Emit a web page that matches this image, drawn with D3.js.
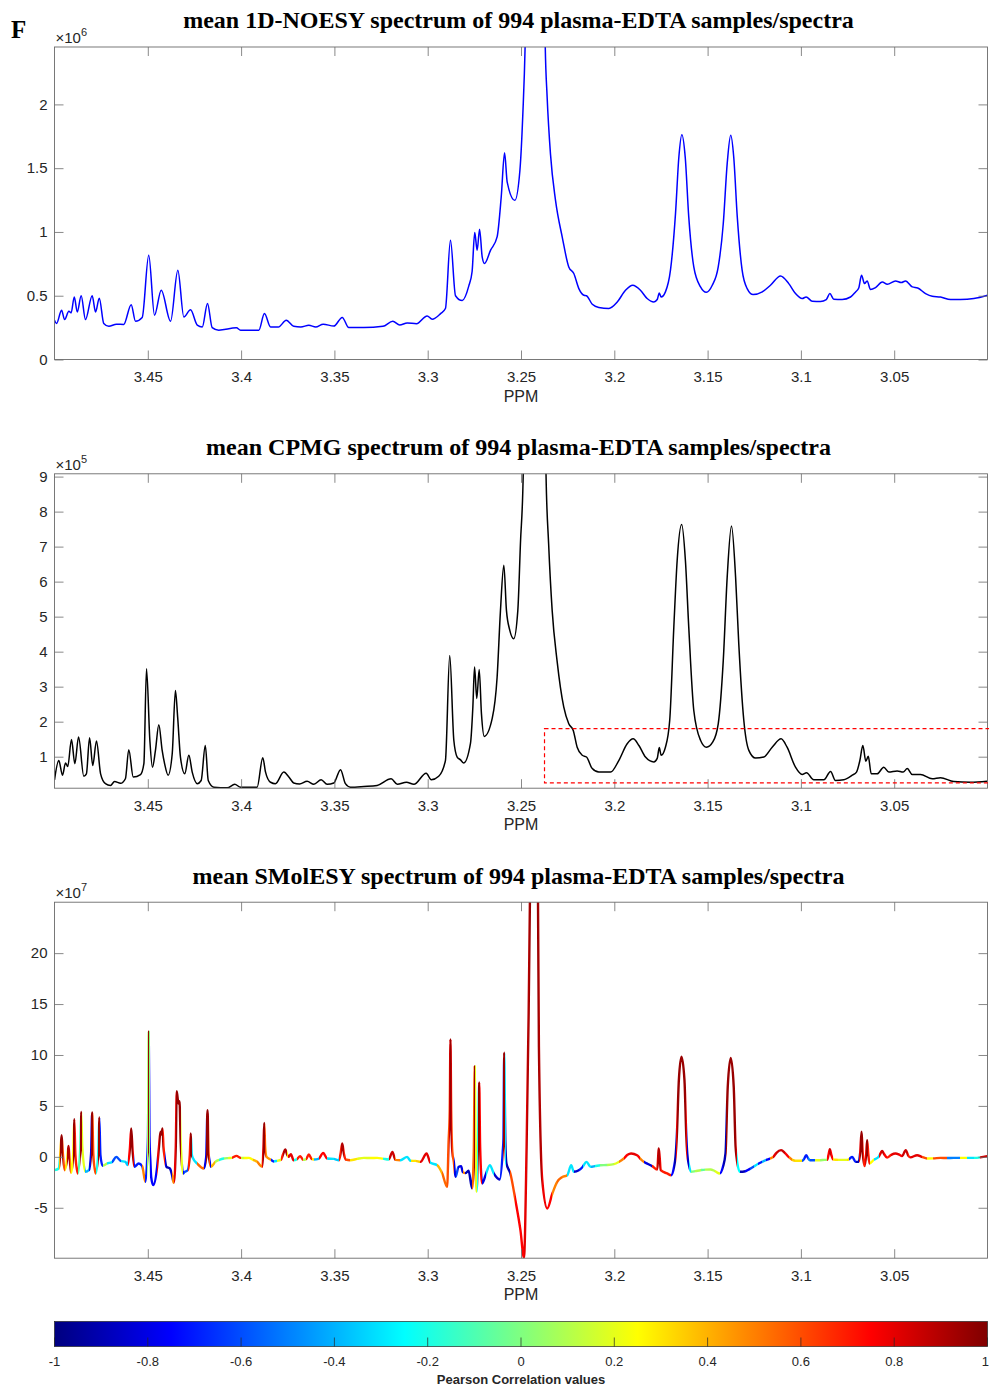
<!DOCTYPE html>
<html>
<head>
<meta charset="utf-8">
<script src="https://cdn.jsdelivr.net/npm/d3@7/dist/d3.min.js"></script>
<style>
  body { margin: 0; background: #fff; }
  svg text { font-family: "Liberation Sans", Arial, Helvetica, sans-serif; }
</style>
</head>
<body>
<svg id="fig" width="989" height="1389"></svg>
<script>
// ---- axis ticks -------------------------------------------------------
const ppmTicks = [3.45, 3.4, 3.35, 3.3, 3.25, 3.2, 3.15, 3.1, 3.05];
const noesyTicks = [0, 0.5, 1, 1.5, 2];           // x 10^6
const cpmgTicks = [1, 2, 3, 4, 5, 6, 7, 8, 9];     // x 10^5
const smolesyTicks = [-5, 0, 5, 10, 15, 20];       // x 10^7
const corrTicks = [-1, -0.8, -0.6, -0.4, -0.2, 0, 0.2, 0.4, 0.6, 0.8, 1];

// ---- mean 1D-NOESY spectrum: [ppm, intensity x 10^6] -------------------
const noesy = [
  [3.5000,0.308],[3.4989,0.282],[3.4962,0.386],[3.4946,0.313],[3.4923,0.378],[3.4911,0.365],
  [3.4894,0.490],[3.4878,0.373],[3.4857,0.500],[3.4834,0.313],[3.4798,0.500],[3.4780,0.373],
  [3.4760,0.480],[3.4736,0.282],[3.4709,0.260],[3.4668,0.277],[3.4629,0.275],[3.4589,0.430],
  [3.4566,0.300],[3.4530,0.330],[3.4495,0.817],[3.4464,0.347],[3.4428,0.543],[3.4378,0.300],
  [3.4339,0.700],[3.4307,0.334],[3.4271,0.390],[3.4235,0.270],[3.4208,0.255],[3.4180,0.440],
  [3.4155,0.250],[3.4120,0.230],[3.4025,0.248],[3.4003,0.230],[3.3905,0.230],[3.3875,0.360],
  [3.3842,0.255],[3.3800,0.255],[3.3758,0.308],[3.3718,0.260],[3.3680,0.255],[3.3637,0.268],
  [3.3600,0.255],[3.3560,0.277],[3.3503,0.262],[3.3458,0.330],[3.3423,0.250],[3.3342,0.250],
  [3.3240,0.260],[3.3187,0.300],[3.3150,0.270],[3.3110,0.287],[3.3060,0.280],[3.3003,0.342],
  [3.2976,0.316],[3.2931,0.360],[3.2905,0.400],[3.2878,0.935],[3.2851,0.500],[3.2815,0.462],
  [3.2780,0.575],[3.2762,0.690],[3.2748,0.995],[3.2735,0.857],[3.2722,1.021],[3.2708,0.804],
  [3.2696,0.752],[3.2663,0.857],[3.2628,0.961],[3.2606,1.274],[3.2588,1.620],[3.2574,1.390],
  [3.2533,1.248],[3.2506,1.480],[3.2490,1.930],[3.2478,2.450],[3.2472,2.900],[3.2425,5.000],
  [3.2375,2.900],[3.2370,2.450],[3.2360,2.060],[3.2342,1.610],[3.2315,1.248],[3.2279,0.960],
  [3.2244,0.726],[3.2217,0.674],[3.2190,0.556],[3.2163,0.504],[3.2149,0.500],[3.2118,0.433],
  [3.2083,0.408],[3.2029,0.400],[3.1984,0.451],[3.1940,0.543],[3.1901,0.582],[3.1860,0.543],
  [3.1824,0.478],[3.1788,0.451],[3.1770,0.470],[3.1759,0.522],[3.1749,0.490],[3.1726,0.530],
  [3.1699,0.700],[3.1672,1.144],[3.1654,1.588],[3.1638,1.763],[3.1620,1.588],[3.1601,1.118],
  [3.1574,0.726],[3.1538,0.569],[3.1507,0.527],[3.1475,0.582],[3.1443,0.726],[3.1416,1.066],
  [3.1395,1.536],[3.1376,1.758],[3.1360,1.588],[3.1341,1.118],[3.1315,0.700],[3.1288,0.556],
  [3.1256,0.509],[3.1207,0.530],[3.1163,0.582],[3.1109,0.655],[3.1065,0.595],[3.1029,0.517],
  [3.0993,0.478],[3.0972,0.490],[3.0939,0.457],[3.0895,0.455],[3.0864,0.470],[3.0845,0.517],
  [3.0824,0.473],[3.0779,0.470],[3.0734,0.490],[3.0707,0.530],[3.0690,0.560],[3.0675,0.660],
  [3.0659,0.595],[3.0645,0.616],[3.0627,0.549],[3.0600,0.564],[3.0564,0.608],[3.0537,0.590],
  [3.0493,0.616],[3.0462,0.603],[3.0439,0.616],[3.0403,0.569],[3.0374,0.561],[3.0332,0.517],
  [3.0296,0.496],[3.0252,0.490],[3.0198,0.470],[3.0145,0.470],[3.0073,0.478],[3.0000,0.504]
];

// ---- mean CPMG spectrum: [ppm, intensity x 10^5] -----------------------
const cpmg = [
  [3.5000,0.34],[3.4977,0.89],[3.4957,0.47],[3.4941,0.82],[3.4929,0.72],[3.4909,1.49],
  [3.4891,0.80],[3.4871,1.56],[3.4843,0.44],[3.4829,0.51],[3.4812,1.54],[3.4795,0.75],
  [3.4775,1.45],[3.4753,0.51],[3.4727,0.23],[3.4700,0.18],[3.4678,0.29],[3.4646,0.24],
  [3.4620,0.37],[3.4602,1.20],[3.4578,0.42],[3.4539,0.49],[3.4521,0.80],[3.4507,3.51],
  [3.4489,1.47],[3.4475,0.70],[3.4459,1.18],[3.4441,1.91],[3.4423,1.18],[3.4410,0.80],
  [3.4391,0.47],[3.4369,1.09],[3.4352,2.89],[3.4340,2.13],[3.4325,0.99],[3.4302,0.51],
  [3.4280,1.04],[3.4262,0.56],[3.4235,0.23],[3.4214,0.32],[3.4192,1.32],[3.4176,0.32],
  [3.4146,0.13],[3.4074,0.11],[3.4034,0.21],[3.4003,0.13],[3.3914,0.13],[3.3884,0.97],
  [3.3869,0.56],[3.3842,0.27],[3.3816,0.23],[3.3771,0.56],[3.3744,0.42],[3.3718,0.25],
  [3.3687,0.22],[3.3646,0.30],[3.3610,0.21],[3.3571,0.34],[3.3539,0.21],[3.3503,0.25],
  [3.3467,0.63],[3.3441,0.23],[3.3414,0.13],[3.3342,0.15],[3.3271,0.18],[3.3196,0.37],
  [3.3163,0.21],[3.3114,0.27],[3.3074,0.21],[3.3008,0.53],[3.2981,0.34],[3.2941,0.44],
  [3.2905,0.89],[3.2882,3.89],[3.2860,1.47],[3.2842,0.99],[3.2824,0.91],[3.2807,0.82],
  [3.2771,1.37],[3.2758,2.42],[3.2749,3.56],[3.2737,2.66],[3.2724,3.49],[3.2712,2.23],
  [3.2697,1.58],[3.2654,2.10],[3.2628,3.27],[3.2610,5.18],[3.2592,6.47],[3.2578,5.18],
  [3.2560,4.61],[3.2539,4.37],[3.2517,5.18],[3.2503,7.09],[3.2488,9.09],[3.2486,9.80],
  [3.2428,22.0],[3.2368,9.80],[3.2366,9.09],[3.2352,7.09],[3.2333,5.18],[3.2307,3.75],
  [3.2271,2.42],[3.2244,1.94],[3.2220,1.75],[3.2199,1.27],[3.2172,1.04],[3.2149,0.99],
  [3.2118,0.66],[3.2083,0.56],[3.2020,0.56],[3.1976,0.89],[3.1931,1.37],[3.1899,1.51],
  [3.1868,1.32],[3.1833,0.99],[3.1788,0.85],[3.1770,0.95],[3.1759,1.26],[3.1749,1.04],
  [3.1726,1.27],[3.1703,2.04],[3.1681,4.70],[3.1663,6.61],[3.1639,7.63],[3.1619,6.61],
  [3.1601,4.70],[3.1574,2.32],[3.1538,1.47],[3.1506,1.27],[3.1472,1.42],[3.1443,1.94],
  [3.1416,3.75],[3.1395,6.13],[3.1372,7.59],[3.1350,6.13],[3.1333,4.23],[3.1306,2.04],
  [3.1279,1.18],[3.1243,0.96],[3.1199,0.99],[3.1154,1.27],[3.1106,1.51],[3.1074,1.27],
  [3.1029,0.70],[3.0993,0.49],[3.0970,0.54],[3.0931,0.34],[3.0877,0.34],[3.0841,0.58],
  [3.0815,0.32],[3.0770,0.34],[3.0725,0.47],[3.0702,0.56],[3.0684,0.89],[3.0668,1.32],
  [3.0652,0.87],[3.0639,1.01],[3.0623,0.51],[3.0591,0.51],[3.0556,0.70],[3.0529,0.56],
  [3.0484,0.59],[3.0452,0.56],[3.0430,0.66],[3.0403,0.49],[3.0359,0.49],[3.0296,0.37],
  [3.0252,0.40],[3.0181,0.29],[3.0091,0.27],[3.0002,0.30]
];

// region highlighted on the CPMG spectrum: ppm range and intensity range (x 10^5)
const cpmgRegionPpm = [3.2374, 2.9906];
const cpmgRegionIntensity = [0.25, 1.8];

// ---- mean SMolESY spectrum: [ppm, intensity x 10^7, Pearson r] ---------
const smolesy = [
  [3.5000,-1.31,-0.35],[3.4977,-1.14,-0.20],[3.4969,0.30,0.40],[3.4962,2.13,0.95],[3.4955,0.30,0.60],
  [3.4946,-1.31,0.35],[3.4932,-0.20,0.30],[3.4925,1.08,0.90],[3.4918,-0.30,0.50],[3.4911,-1.57,0.50],
  [3.4900,0.20,0.25],[3.4894,3.70,0.95],[3.4888,0.20,0.70],[3.4875,-1.63,0.50],[3.4862,0.90,-0.10],
  [3.4857,4.42,0.95],[3.4851,0.90,0.20],[3.4834,-1.47,-0.40],[3.4816,-1.31,-0.40],[3.4804,0.30,-0.80],
  [3.4798,4.36,0.95],[3.4792,0.30,0.60],[3.4780,-1.63,0.50],[3.4766,0.20,-0.20],[3.4760,3.87,0.95],
  [3.4754,0.20,-0.70],[3.4742,-0.88,-0.30],[3.4717,-0.65,0.10],[3.4691,-0.50,-0.30],[3.4669,0.00,-0.60],
  [3.4646,-0.39,-0.30],[3.4620,-0.49,-0.35],[3.4608,-0.80,-0.70],[3.4596,0.80,0.75],[3.4589,2.79,0.95],
  [3.4581,0.50,0.80],[3.4572,-0.98,0.55],[3.4549,-0.65,-0.70],[3.4530,-0.91,0.50],[3.4513,-2.46,0.55],
  [3.4504,-0.50,-0.70],[3.4499,2.00,0.05],[3.4495,12.28,0.95],[3.4491,2.00,0.00],[3.4486,-0.50,-0.75],
  [3.4482,-1.96,-0.75],[3.4471,-2.78,0.70],[3.4450,-0.98,-0.75],[3.4440,1.00,0.80],[3.4432,2.46,0.95],
  [3.4427,2.20,0.95],[3.4421,2.79,0.95],[3.4416,1.00,0.70],[3.4410,0.00,-0.80],[3.4400,-0.98,-0.90],
  [3.4382,-1.14,-0.85],[3.4370,-1.80,0.50],[3.4361,-2.55,0.65],[3.4350,1.00,0.80],[3.4345,6.45,0.95],
  [3.4336,5.24,0.95],[3.4330,5.47,0.95],[3.4324,1.50,0.80],[3.4320,0.00,0.20],[3.4311,-1.63,0.15],
  [3.4304,-1.50,-0.75],[3.4286,-1.31,-0.60],[3.4275,0.20,0.70],[3.4270,2.30,0.95],[3.4264,0.20,-0.30],
  [3.4257,-0.16,-0.30],[3.4236,-0.65,0.55],[3.4200,-1.14,0.60],[3.4187,0.00,-0.80],[3.4180,4.59,0.95],
  [3.4174,0.30,0.60],[3.4168,-0.50,-0.80],[3.4161,-0.98,0.60],[3.4138,-0.49,0.40],[3.4117,-0.30,0.10],
  [3.4093,-0.16,-0.20],[3.4071,-0.12,0.05],[3.4049,-0.10,0.20],[3.4025,0.10,0.70],[3.4003,-0.10,0.15],
  [3.3982,-0.12,-0.20],[3.3959,-0.10,0.25],[3.3936,-0.30,0.40],[3.3914,-0.49,0.50],[3.3887,-0.98,-0.60],
  [3.3880,1.00,0.80],[3.3876,3.34,0.95],[3.3871,1.00,0.60],[3.3864,0.00,0.45],[3.3842,-0.26,-0.70],
  [3.3825,-0.45,0.20],[3.3807,-0.39,-0.30],[3.3787,-0.30,0.20],[3.3774,0.30,0.70],[3.3763,0.72,0.90],
  [3.3753,0.20,0.30],[3.3746,0.00,-0.80],[3.3733,0.26,0.80],[3.3719,-0.33,0.30],[3.3702,-0.25,-0.20],
  [3.3683,0.07,0.70],[3.3667,-0.30,0.30],[3.3651,-0.20,0.10],[3.3637,0.23,0.70],[3.3622,-0.20,0.30],
  [3.3610,-0.26,-0.30],[3.3585,-0.20,-0.40],[3.3560,0.39,0.75],[3.3539,-0.16,-0.30],[3.3503,-0.20,-0.35],
  [3.3476,-0.33,-0.70],[3.3467,0.30,0.70],[3.3458,1.31,0.90],[3.3449,0.30,0.70],[3.3440,-0.26,0.60],
  [3.3414,-0.33,0.45],[3.3378,-0.20,0.30],[3.3342,-0.10,0.20],[3.3307,-0.12,0.40],[3.3271,-0.10,0.25],
  [3.3240,-0.18,-0.20],[3.3209,-0.26,0.40],[3.3189,0.49,0.85],[3.3173,-0.30,0.50],[3.3146,-0.33,0.30],
  [3.3110,0.00,-0.30],[3.3092,-0.39,0.30],[3.3065,-0.40,0.35],[3.3039,-0.49,0.45],[3.3006,0.33,0.80],
  [3.2985,-0.59,-0.30],[3.2949,-0.82,0.40],[3.2922,-1.63,0.55],[3.2896,-2.95,-0.70],[3.2888,1.50,0.60],
  [3.2882,4.50,0.85],[3.2878,11.53,0.95],[3.2874,4.50,0.85],[3.2868,0.50,0.60],[3.2860,-0.50,-0.80],
  [3.2851,-1.96,-0.85],[3.2835,-1.00,-0.60],[3.2821,-0.91,-0.80],[3.2812,-1.50,0.50],[3.2798,-1.60,-0.80],
  [3.2781,-1.37,-0.90],[3.2762,-3.10,-0.90],[3.2753,0.50,0.55],[3.2748,8.90,0.95],[3.2744,1.00,0.20],
  [3.2738,-3.44,0.45],[3.2731,1.00,-0.20],[3.2724,7.31,0.95],[3.2719,1.00,0.75],[3.2708,-2.61,-0.85],
  [3.2690,-1.80,-0.80],[3.2667,-0.82,-0.30],[3.2646,-1.63,-0.85],[3.2614,-2.22,-0.90],[3.2598,0.50,-0.70],
  [3.2594,1.80,-0.30],[3.2590,10.22,0.95],[3.2584,1.50,-0.30],[3.2578,-0.65,-0.90],[3.2557,-1.63,0.60],
  [3.2530,-4.25,0.75],[3.2503,-7.20,0.75],[3.2484,-9.90,0.75],[3.2470,0.98,0.80],[3.2459,14.10,0.90],
  [3.2452,25.50,0.93],[3.2431,45.00,0.95],[3.2409,25.50,0.93],[3.2404,10.80,0.90],[3.2386,-2.29,0.78],
  [3.2359,-5.07,0.75],[3.2332,-3.60,0.75],[3.2306,-2.46,0.50],[3.2280,-2.00,0.55],[3.2252,-1.80,0.50],
  [3.2231,-0.82,-0.30],[3.2217,-1.47,-0.70],[3.2190,-1.31,-0.85],[3.2170,-1.00,-0.70],[3.2149,-0.49,-0.30],
  [3.2127,-0.98,-0.75],[3.2101,-0.90,-0.40],[3.2074,-0.82,-0.20],[3.2039,-0.80,0.00],[3.2002,-0.72,0.10],
  [3.1976,-0.50,0.20],[3.1949,-0.16,0.50],[3.1929,0.20,0.75],[3.1910,0.33,0.80],[3.1878,0.16,0.75],
  [3.1860,-0.20,0.50],[3.1842,-0.49,-0.80],[3.1820,-0.70,-0.85],[3.1797,-0.91,0.70],[3.1770,-1.24,0.70],
  [3.1765,0.00,0.85],[3.1762,0.82,0.90],[3.1757,0.00,0.80],[3.1751,-1.31,0.70],[3.1717,-1.63,0.70],
  [3.1695,-1.80,0.55],[3.1680,-1.00,-0.75],[3.1672,0.00,-0.90],[3.1665,2.00,0.80],[3.1654,7.53,0.95],
  [3.1640,9.82,0.95],[3.1624,7.53,0.95],[3.1614,2.00,0.80],[3.1609,0.33,-0.85],[3.1600,-0.80,-0.30],
  [3.1588,-1.47,-0.25],[3.1565,-1.40,0.00],[3.1538,-1.31,0.10],[3.1512,-1.25,-0.05],[3.1485,-1.24,0.10],
  [3.1461,-1.40,0.20],[3.1435,-1.63,-0.20],[3.1418,-1.00,-0.75],[3.1404,0.33,-0.90],[3.1392,6.88,0.95],
  [3.1376,9.72,0.95],[3.1360,6.88,0.95],[3.1350,1.00,0.85],[3.1345,0.00,-0.25],[3.1327,-1.47,-0.80],
  [3.1297,-1.41,-0.90],[3.1275,-1.20,-0.75],[3.1254,-0.98,-0.60],[3.1231,-0.70,-0.30],[3.1208,-0.49,-0.70],
  [3.1185,-0.30,-0.40],[3.1164,-0.16,-0.75],[3.1148,0.00,0.50],[3.1131,0.40,0.80],[3.1106,0.66,0.85],
  [3.1086,0.40,0.75],[3.1066,0.00,0.50],[3.1046,-0.30,0.35],[3.1029,-0.39,0.30],[3.0993,-0.39,0.35],
  [3.0983,-0.20,-0.60],[3.0972,0.16,-0.70],[3.0962,-0.10,-0.50],[3.0952,-0.33,-0.60],[3.0925,-0.33,0.20],
  [3.0895,-0.33,0.25],[3.0874,-0.30,0.05],[3.0859,-0.30,0.40],[3.0852,0.20,0.75],[3.0845,0.76,0.85],
  [3.0837,0.20,0.75],[3.0827,-0.26,0.30],[3.0799,-0.30,0.20],[3.0752,-0.30,-0.10],[3.0740,-0.20,0.30],
  [3.0725,0.00,-0.70],[3.0707,-0.49,-0.90],[3.0690,-0.49,-0.90],[3.0682,0.50,0.80],[3.0675,2.46,0.95],
  [3.0669,0.50,0.70],[3.0659,-0.91,-0.85],[3.0650,0.30,0.80],[3.0645,1.64,0.95],[3.0639,0.30,0.70],
  [3.0632,-0.65,0.50],[3.0610,-0.30,0.25],[3.0583,0.00,-0.30],[3.0572,0.40,0.80],[3.0565,0.59,0.85],
  [3.0555,0.30,0.75],[3.0538,-0.07,-0.70],[3.0516,0.20,0.70],[3.0493,0.33,0.80],[3.0476,0.25,0.75],
  [3.0458,0.07,-0.55],[3.0438,0.66,0.85],[3.0424,0.10,0.70],[3.0413,-0.05,0.50],[3.0377,0.16,0.80],
  [3.0352,0.00,0.60],[3.0324,-0.16,0.45],[3.0290,-0.15,0.25],[3.0252,-0.10,0.60],[3.0217,-0.12,0.30],
  [3.0181,-0.10,-0.50],[3.0145,-0.10,0.25],[3.0110,-0.10,-0.30],[3.0073,-0.10,0.30],[3.0038,-0.05,-0.20],
  [3.0002,0.07,0.85]
];

// ---- layout -------------------------------------------------------------
const svg = d3.select("#fig");
const defs = svg.append("defs");
const plotLeft = 54, plotRight = 987;
const plotW = plotRight - plotLeft;
const x = d3.scaleLinear().domain([3.5, 3.0]).range([0, plotW]);

const axisColor = "#6b6b6b";
const labelColor = "#262626";
const serif = "'Liberation Serif', 'Times New Roman', serif";

// MATLAB-style jet colormap, t in [0, 1]
function jet(t) {
  t = Math.max(0, Math.min(1, t));
  const c = v => Math.round(255 * Math.max(0, Math.min(1, v)));
  return `rgb(${c(1.5 - Math.abs(4 * t - 3))},${c(1.5 - Math.abs(4 * t - 2))},${c(1.5 - Math.abs(4 * t - 1))})`;
}
const corrScale = d3.scaleLinear().domain([-1, 1]).range([0, 1]);
const corrColor = r => jet(corrScale(r));

function styleAxis(sel) {
  sel.select(".domain").remove();
  sel.selectAll(".tick line").attr("stroke", axisColor).attr("stroke-width", 0.8);
  sel.selectAll(".tick text").attr("fill", labelColor).attr("font-size", 15)
    .attr("font-family", "'Liberation Sans', Arial, sans-serif");
}

function panel(cfg) {
  const h = cfg.bottom - cfg.top;
  const y = d3.scaleLinear().domain(cfg.yDomain).range([h, 0]);
  const g = svg.append("g").attr("transform", `translate(${plotLeft + 0.5},${cfg.top + 0.5})`);

  defs.append("clipPath").attr("id", cfg.id + "-clip")
    .append("rect").attr("width", plotW).attr("height", h);
  const plot = g.append("g").attr("clip-path", `url(#${cfg.id}-clip)`);

  const fmt = d => String(+d.toFixed(2));
  g.append("g").attr("transform", `translate(0,${h})`)
    .call(d3.axisBottom(x).tickValues(ppmTicks).tickFormat(fmt).tickSize(-9).tickPadding(12))
    .call(styleAxis);
  g.append("g")
    .call(d3.axisTop(x).tickValues(ppmTicks).tickFormat("").tickSize(-9))
    .call(styleAxis);
  g.append("g")
    .call(d3.axisLeft(y).tickValues(cfg.yTicks).tickFormat(fmt).tickSize(-9).tickPadding(7))
    .call(styleAxis);
  g.append("g").attr("transform", `translate(${plotW},0)`)
    .call(d3.axisRight(y).tickValues(cfg.yTicks).tickFormat("").tickSize(-9))
    .call(styleAxis);

  g.append("rect").attr("width", plotW).attr("height", h)
    .attr("fill", "none").attr("stroke", axisColor).attr("stroke-width", 0.9);

  // exponent label of the y axis
  const ex = g.append("text").attr("x", 1).attr("y", -4).attr("fill", labelColor).attr("font-size", 15);
  ex.append("tspan").text("\u00d710");
  ex.append("tspan").attr("dy", -7).attr("font-size", 11).text(cfg.exponent);

  // x-axis title
  g.append("text").attr("x", plotW / 2).attr("y", h + 42).attr("text-anchor", "middle")
    .attr("fill", labelColor).attr("font-size", 16).text("PPM");

  // panel title
  svg.append("text").attr("x", plotLeft + plotW / 2 - 2).attr("y", cfg.titleY)
    .attr("text-anchor", "middle").attr("font-weight", "bold").attr("font-size", 24)
    .style("font-family", serif).attr("fill", "#000").text(cfg.title);

  return { g, plot, y, h };
}

// panel label
svg.append("text").attr("x", 11).attr("y", 38).attr("font-weight", "bold").attr("font-size", 25)
  .style("font-family", serif).text("F");

// ---- 1D-NOESY -------------------------------------------------------------
const p1 = panel({ id: "noesy", top: 46.5, bottom: 359, yDomain: [0, 2.45], yTicks: noesyTicks,
  exponent: "6", title: "mean 1D-NOESY spectrum of 994 plasma-EDTA samples/spectra", titleY: 28 });
p1.plot.append("path").datum(noesy)
  .attr("d", d3.line().x(d => x(d[0])).y(d => p1.y(d[1])).curve(d3.curveMonotoneX))
  .attr("fill", "none").attr("stroke", "#0000ff").attr("stroke-width", 1.5);

// ---- CPMG ---------------------------------------------------------------
const p2 = panel({ id: "cpmg", top: 473.3, bottom: 787.7, yDomain: [0.1, 9.08], yTicks: cpmgTicks,
  exponent: "5", title: "mean CPMG spectrum of 994 plasma-EDTA samples/spectra", titleY: 455 });
p2.plot.append("path").datum(cpmg)
  .attr("d", d3.line().x(d => x(d[0])).y(d => p2.y(d[1])).curve(d3.curveMonotoneX))
  .attr("fill", "none").attr("stroke", "#000").attr("stroke-width", 1.5);
p2.g.append("rect")
  .attr("x", x(cpmgRegionPpm[0])).attr("y", p2.y(cpmgRegionIntensity[1]))
  .attr("width", x(cpmgRegionPpm[1]) - x(cpmgRegionPpm[0]))
  .attr("height", p2.y(cpmgRegionIntensity[0]) - p2.y(cpmgRegionIntensity[1]))
  .attr("fill", "none").attr("stroke", "#ff0000").attr("stroke-width", 1.2)
  .attr("stroke-dasharray", "4,3");

// ---- SMolESY, coloured by Pearson correlation ------------------------------
const p3 = panel({ id: "smolesy", top: 901.7, bottom: 1257.7, yDomain: [-9.95, 25], yTicks: smolesyTicks,
  exponent: "7", title: "mean SMolESY spectrum of 994 plasma-EDTA samples/spectra", titleY: 884 });

// each segment between two samples takes the colour of its more intense end,
// so peak flanks carry the correlation of the peak top
const rGrad = defs.append("linearGradient").attr("id", "corr-stroke")
  .attr("gradientUnits", "userSpaceOnUse")
  .attr("x1", 0).attr("x2", plotW).attr("y1", 0).attr("y2", 0);
const sx = smolesy.map(d => x(d[0]));
for (let i = 0; i < smolesy.length - 1; i++) {
  const a = smolesy[i], b = smolesy[i + 1];
  const col = corrColor(a[1] >= b[1] ? a[2] : b[2]);
  rGrad.append("stop").attr("offset", sx[i] / plotW).attr("stop-color", col);
  rGrad.append("stop").attr("offset", sx[i + 1] / plotW).attr("stop-color", col);
}
p3.plot.append("path").datum(smolesy)
  .attr("d", d3.line().x(d => x(d[0])).y(d => p3.y(d[1])).curve(d3.curveMonotoneX))
  .attr("fill", "none").attr("stroke", "url(#corr-stroke)").attr("stroke-width", 2.4)
  .attr("stroke-linejoin", "round");

// ---- colour bar -------------------------------------------------------------
const cbTop = 1321, cbH = 25;
const cbX = d3.scaleLinear().domain([-1, 1]).range([0, plotW]);
const cbGrad = defs.append("linearGradient").attr("id", "jet-bar");
d3.range(0, 1.0001, 1 / 128).forEach(t =>
  cbGrad.append("stop").attr("offset", t).attr("stop-color", jet(t)));
const cb = svg.append("g").attr("transform", `translate(${plotLeft + 0.5},${cbTop + 0.5})`);
cb.append("rect").attr("width", plotW).attr("height", cbH).attr("fill", "url(#jet-bar)")
  .attr("stroke", "#262626").attr("stroke-width", 0.7);
cb.selectAll("line.cbtick").data(corrTicks).join("line").attr("class", "cbtick")
  .attr("x1", d => cbX(d)).attr("x2", d => cbX(d)).attr("y1", cbH).attr("y2", cbH - 9)
  .attr("stroke", "#262626").attr("stroke-width", 0.7);
cb.selectAll("text.cblab").data(corrTicks).join("text").attr("class", "cblab")
  .attr("x", d => d === 1 ? cbX(d) + 1.5 : cbX(d)).attr("y", cbH + 19)
  .attr("text-anchor", d => d === 1 ? "end" : "middle")
  .attr("fill", labelColor).attr("font-size", 13).text(d => String(+d.toFixed(1)));
cb.append("text").attr("x", plotW / 2).attr("y", cbH + 37).attr("text-anchor", "middle")
  .attr("font-weight", "bold").attr("font-size", 13).attr("fill", labelColor)
  .text("Pearson Correlation values");
</script>
</body>
</html>
